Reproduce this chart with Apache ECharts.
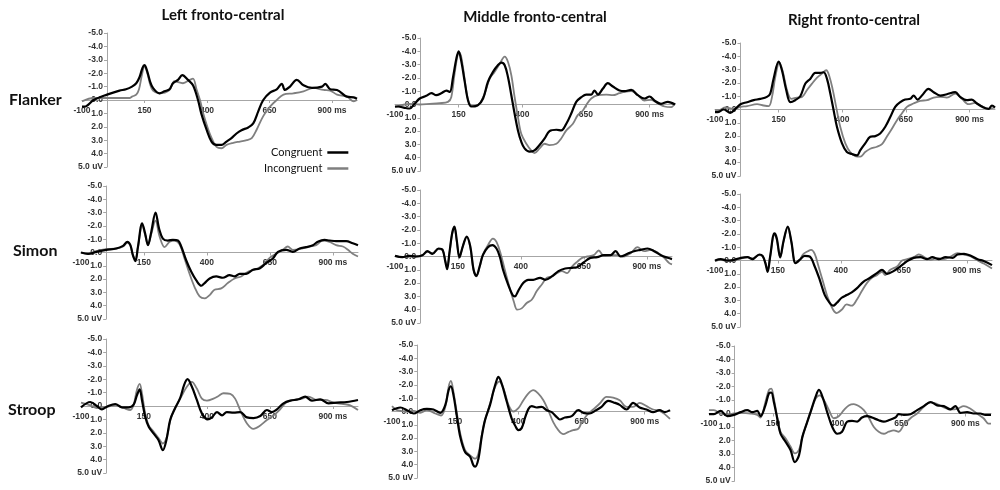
<!DOCTYPE html>
<html>
<head>
<meta charset="utf-8">
<script src="https://cdn.jsdelivr.net/npm/echarts@6/dist/echarts.min.js"></script>
<style>
  html, body { margin: 0; padding: 0; background: #fff; }
  #chart { width: 1000px; height: 490px; }
</style>
</head>
<body>
<div id="chart"></div>
<script>
const regions = ['Left fronto-central', 'Middle fronto-central', 'Right fronto-central'];
const tasks = ['Flanker', 'Simon', 'Stroop'];
const seriesNames = ['Congruent', 'Incongruent'];
const xTickValues = [-100, 150, 400, 650, 900];

// [ms, uV]
const leftFlankerCon = [[-100,0.5],[-90,0.5],[-53,0.0],[0,-0.4],[50,-0.7],[76,-0.8],[100,-1.0],[117,-1.25],[130,-1.7],[142,-2.4],[150,-2.6],[160,-2.2],[172,-1.4],[184,-0.9],[210,-0.5],[230,-0.65],[250,-0.8],[264,-1.25],[284,-1.5],[301,-1.85],[324,-1.5],[344,-1.1],[364,0.0],[377,1.0],[398,2.2],[418,3.1],[438,3.35],[458,3.35],[478,3.1],[498,2.85],[518,2.5],[538,2.25],[565,2.05],[585,1.75],[605,0.85],[625,0],[652,-0.55],[679,-0.8],[699,-1.2],[712,-0.75],[732,-1.0],[759,-1.5],[786,-1.1],[820,-0.9],[860,-1.0],[873,-1.2],[893,-0.8],[920,-0.75],[960,-0.25],[987,-0.2],[1000,-0.1]];
const leftFlankerInc = [[-100,0.1],[-53,-0.15],[0,-0.15],[50,-0.15],[90,-0.15],[100,-0.25],[117,-0.4],[128,-0.8],[140,-1.9],[150,-2.5],[160,-2.1],[172,-1.2],[184,-0.7],[210,-0.5],[250,-0.75],[270,-1.4],[304,-1.25],[331,-1.5],[344,-1.6],[358,-0.8],[372,0.0],[385,1.0],[405,2.2],[420,2.9],[438,3.5],[458,3.6],[478,3.35],[505,3.2],[532,3.1],[559,3.0],[579,2.85],[599,2.2],[625,1.2],[652,0.5],[679,0],[706,-0.4],[746,-0.5],[786,-0.65],[826,-0.9],[866,-0.75],[893,-0.7],[920,-0.4],[960,-0.25],[987,0.1],[1000,0]];

const leftSimonCon = [[-100,0.0],[-72,0.1],[-39,-0.05],[0,-0.2],[40,-0.3],[67,-0.5],[84,-0.8],[96,-0.55],[106,0.2],[116,0.65],[126,-0.4],[143,-2.2],[155,-1.4],[166,-0.55],[179,-1.55],[196,-3.0],[210,-1.8],[225,-1.05],[245,-0.9],[265,-0.95],[285,-0.9],[298,-0.45],[318,0.6],[338,1.45],[358,2.1],[378,2.5],[391,2.3],[411,1.95],[437,1.8],[463,1.9],[490,1.7],[510,1.8],[530,1.6],[556,1.6],[583,1.3],[609,1.2],[635,0.8],[662,0.45],[682,-0.05],[715,-0.2],[741,-0.05],[768,-0.3],[794,-0.4],[821,-0.55],[840,-0.8],[867,-0.95],[887,-0.9],[913,-0.85],[953,-0.85],[979,-0.7],[1000,-0.55]];
const leftSimonInc = [[-100,0.0],[-72,0.1],[-39,-0.1],[0,-0.25],[40,-0.3],[67,-0.45],[84,-0.75],[96,-0.55],[106,0.2],[116,0.55],[126,-0.4],[143,-2.05],[155,-1.3],[166,-0.6],[179,-1.4],[196,-2.4],[212,-1.2],[232,-0.4],[252,-0.8],[272,-0.9],[292,-0.6],[311,0.45],[331,1.6],[351,2.6],[371,3.3],[391,3.45],[411,3.2],[430,2.8],[457,2.7],[483,2.3],[510,1.95],[536,1.8],[563,1.45],[589,1.3],[622,0.95],[649,0.4],[675,0.1],[701,-0.2],[721,-0.45],[741,-0.2],[768,-0.25],[807,-0.45],[834,-0.55],[860,-0.9],[887,-0.8],[913,-0.55],[940,-0.45],[960,-0.2],[979,0.1],[1000,0.3]];

const leftStroopCon = [[-100,0.1],[-63,-0.3],[-37,0],[-17,0.25],[3,0.05],[36,-0.15],[63,0.1],[89,0.1],[109,-0.1],[122,-0.8],[133,-1.25],[142,-0.45],[155,0.8],[169,1.55],[188,2.05],[208,2.55],[225,3.3],[239,2.55],[254,1.05],[274,0.15],[294,-0.6],[310,-1.6],[323,-2.0],[340,-1.45],[360,-0.45],[380,0.55],[403,1.0],[420,0.85],[440,0.45],[460,0.7],[479,0.45],[506,0.5],[532,0.45],[559,0.85],[585,0.9],[612,0.75],[638,0.3],[658,0.45],[678,0.25],[704,-0.2],[731,-0.4],[764,-0.5],[790,-0.7],[817,-0.4],[850,-0.5],[883,-0.2],[916,-0.25],[956,-0.3],[1000,-0.45]];
const leftStroopInc = [[-100,-0.25],[-63,-0.05],[-37,0.15],[3,0.05],[36,-0.05],[69,0.15],[96,0.3],[109,-0.1],[122,-1.2],[133,-1.65],[142,-0.95],[155,0.55],[169,1.45],[188,1.9],[208,2.4],[225,2.8],[241,2.3],[257,0.9],[274,0.15],[301,-0.8],[321,-1.45],[340,-1.8],[360,-1.3],[380,-0.55],[400,-0.4],[426,-0.55],[446,-0.75],[466,-0.95],[493,-0.9],[512,-0.55],[532,0.3],[559,1.3],[585,1.7],[612,1.45],[638,1.05],[665,0.7],[691,0.25],[717,-0.3],[744,-0.45],[777,-0.55],[803,-0.7],[837,-0.45],[870,-0.45],[903,-0.25],[942,-0.15],[969,-0.05],[1000,0.3]];

const midFlankerCon = [[-100,0.15],[-88,0.15],[-62,0.25],[-42,0.3],[-23,-0.05],[-3,-0.45],[23,-0.65],[43,-0.85],[62,-0.7],[82,-0.85],[102,-1.05],[115,-0.95],[128,-2.05],[141,-3.45],[150,-4.0],[160,-3.3],[174,-1.7],[187,-0.3],[200,0.15],[226,0.05],[246,-0.45],[265,-1.7],[285,-2.45],[304,-2.95],[318,-3.15],[331,-2.95],[344,-2.05],[357,-0.7],[370,0.7],[383,1.95],[396,2.8],[409,3.3],[429,3.55],[448,3.45],[468,3.05],[488,2.55],[507,2.0],[534,1.9],[553,1.95],[573,1.45],[592,0.7],[612,-0.2],[632,-0.55],[651,-0.75],[671,-0.75],[684,-1.05],[697,-0.75],[717,-1.2],[736,-1.6],[756,-1.35],[782,-1.05],[802,-1.0],[828,-1.1],[854,-0.7],[880,-0.45],[900,-0.6],[919,-0.3],[945,-0.05],[972,-0.2],[1000,0]];
const midFlankerInc = [[-100,0.2],[-62,0],[-42,-0.05],[-3,0],[36,-0.05],[75,-0.1],[108,-0.2],[121,-0.55],[134,-2.3],[147,-3.8],[154,-3.9],[167,-2.8],[180,-1.05],[193,-0.05],[213,0.15],[232,-0.05],[252,-0.8],[272,-1.95],[291,-2.45],[311,-3.05],[331,-3.6],[344,-3.2],[357,-2.2],[370,-0.55],[383,0.95],[396,2.2],[416,2.95],[435,3.45],[448,3.65],[468,3.3],[488,2.95],[507,3.05],[534,2.95],[553,2.55],[573,1.95],[599,1.45],[618,0.8],[638,0.45],[651,0.05],[671,-0.45],[697,-0.7],[730,-0.75],[756,-0.7],[782,-0.85],[802,-0.95],[828,-1.0],[854,-0.7],[880,-0.3],[906,-0.35],[932,-0.1],[959,0.15],[985,0.2],[1000,-0.1]];

const midSimonCon = [[-100,-0.05],[-71,0.05],[-44,-0.05],[-17,0],[9,-0.1],[29,-0.4],[49,-0.2],[73,-0.6],[89,-0.5],[100,0.4],[107,0.95],[116,-0.25],[127,-1.75],[136,-2.25],[145,-1.25],[156,0.05],[169,-0.75],[185,-1.5],[199,-0.75],[212,1.0],[223,1.45],[236,0.75],[249,-0.1],[269,-0.7],[287,-0.85],[303,-0.6],[316,0],[329,1.0],[349,2.1],[367,2.9],[376,3.0],[389,2.6],[409,2.0],[429,1.75],[449,1.75],[476,1.6],[496,1.75],[523,1.5],[549,1.1],[576,0.9],[603,0.85],[623,0.8],[649,0.45],[676,0.1],[703,0.05],[729,-0.1],[756,-0.1],[776,-0.4],[796,0],[823,-0.2],[849,-0.4],[876,-0.5],[903,-0.6],[929,-0.4],[956,-0.1],[983,0.1],[1000,0.2]];
const midSimonInc = [[-100,-0.05],[-71,0.05],[-44,0],[-17,0],[9,-0.1],[29,-0.35],[49,-0.25],[73,-0.55],[89,-0.45],[100,0.35],[107,0.8],[116,-0.2],[127,-1.7],[136,-2.2],[145,-1.2],[156,0.1],[169,-0.75],[185,-1.45],[199,-0.7],[212,1.0],[223,1.5],[236,0.8],[249,-0.15],[269,-0.85],[289,-1.35],[303,-1.1],[319,-0.25],[336,1.0],[356,2.4],[372,3.4],[385,4.0],[403,3.9],[423,3.5],[443,3.25],[463,2.6],[483,2.1],[503,1.6],[523,1.5],[543,1.25],[563,1.1],[583,1.25],[603,0.75],[623,0.4],[643,0.1],[663,0],[689,-0.1],[709,-0.45],[729,-0.05],[756,-0.1],[783,-0.1],[809,0],[836,-0.25],[863,-0.7],[889,-0.4],[916,-0.5],[943,-0.3],[969,0.1],[989,0.5],[1000,0.6]];

const midStroopCon = [[-100,-0.1],[-67,-0.3],[-41,-0.1],[-14,0.15],[12,-0.1],[38,-0.2],[64,-0.15],[91,0.1],[111,-0.5],[124,-1.6],[133,-1.9],[143,-1.25],[157,0.4],[170,1.9],[189,3.05],[209,3.4],[222,4.05],[229,4.15],[242,3.55],[255,1.9],[268,0.65],[288,-0.5],[301,-1.5],[314,-2.35],[321,-2.6],[334,-2.1],[354,-0.75],[374,0.55],[387,1.05],[400,1.4],[413,1.25],[426,0.5],[440,-0.2],[453,-0.4],[472,-0.3],[492,-0.35],[512,-0.1],[532,0.05],[551,0.4],[564,0.6],[584,0.45],[611,0.35],[637,-0.1],[657,0.1],[683,0.15],[703,-0.05],[729,-0.35],[755,-0.8],[782,-0.65],[801,-0.5],[828,-0.15],[854,-0.65],[880,-0.3],[907,-0.15],[933,0.05],[959,-0.1],[979,0.05],[1000,-0.1]];
const midStroopInc = [[-100,-0.4],[-80,-0.1],[-41,0],[-14,-0.05],[12,0.1],[38,-0.1],[71,0.15],[94,0.3],[111,-0.35],[124,-1.85],[133,-2.3],[143,-1.5],[157,0.15],[170,1.65],[189,2.9],[209,3.3],[229,3.55],[242,3.15],[255,1.8],[268,0.65],[288,-0.6],[308,-1.85],[325,-2.25],[341,-1.75],[361,-0.5],[380,0],[400,-0.25],[420,-0.85],[439,-1.35],[459,-1.6],[479,-1.35],[499,-0.85],[518,-0.1],[538,0.8],[558,1.4],[578,1.7],[597,1.55],[617,1.4],[637,1.3],[650,0.85],[670,0.3],[696,-0.15],[722,-0.6],[749,-1.1],[775,-1.05],[801,-0.85],[828,-0.35],[854,-0.35],[880,-0.65],[907,-0.4],[933,-0.15],[959,-0.05],[979,0.2],[1000,0.55]];

const rightFlankerCon = [[-100,0.2],[-90,0.2],[-66,0],[-40,0.25],[-20,-0.05],[0,-0.4],[26,-0.55],[52,-0.7],[78,-0.8],[104,-0.95],[117,-1.2],[130,-2.3],[150,-3.6],[163,-2.95],[180,-1.45],[196,-0.55],[215,-0.7],[235,-1.0],[255,-1.95],[274,-2.3],[294,-2.75],[314,-2.75],[327,-2.8],[340,-2.3],[353,-1.2],[366,0.05],[379,1.3],[399,2.55],[418,3.2],[438,3.35],[458,3.45],[471,3.05],[490,2.55],[510,2.05],[530,2.0],[549,1.8],[569,1.3],[589,0.55],[608,-0.2],[628,-0.55],[647,-0.75],[667,-0.8],[680,-1.05],[696,-0.75],[713,-1.05],[739,-1.55],[759,-1.3],[785,-1.05],[811,-1.15],[844,-1.3],[863,-0.95],[889,-0.7],[909,-0.75],[929,-0.45],[955,-0.15],[975,-0.05],[988,-0.3],[1000,-0.15]];
const rightFlankerInc = [[-100,0.05],[-85,0.05],[-59,-0.15],[-27,-0.05],[0,-0.2],[26,-0.25],[65,-0.4],[91,-0.3],[111,-0.25],[124,-0.95],[137,-2.45],[153,-3.55],[167,-2.8],[183,-1.45],[200,-0.8],[222,-0.9],[242,-0.95],[261,-1.45],[281,-1.95],[301,-2.4],[320,-2.7],[337,-2.95],[350,-2.45],[363,-1.45],[376,-0.2],[392,1.3],[412,2.55],[431,3.2],[451,3.5],[471,3.55],[490,3.2],[510,2.95],[536,2.8],[556,2.6],[575,2.05],[595,1.45],[615,0.8],[634,0.3],[654,-0.2],[680,-0.45],[706,-0.65],[733,-0.7],[759,-0.9],[785,-0.95],[811,-0.9],[844,-1.2],[870,-0.8],[896,-0.4],[922,-0.5],[948,-0.25],[975,-0.05],[1000,-0.15]];

const rightSimonCon = [[-100,0],[-77,-0.1],[-51,0],[-24,-0.05],[3,-0.2],[29,-0.25],[49,-0.1],[76,-0.45],[89,-0.35],[100,0.2],[109,0.85],[119,-0.3],[136,-2.05],[145,-1.7],[159,-0.25],[172,-1.45],[189,-2.55],[203,-1.45],[220,0.2],[236,-0.05],[256,-0.35],[276,-0.3],[296,0.45],[316,1.45],[336,2.6],[356,3.2],[369,3.4],[383,3.2],[403,2.8],[423,2.6],[443,2.4],[463,2.1],[489,1.6],[516,1.3],[543,0.95],[563,0.7],[583,1.0],[609,0.8],[636,0.45],[663,0.05],[689,-0.2],[716,-0.25],[743,-0.1],[763,-0.25],[789,-0.1],[816,-0.25],[843,-0.2],[863,-0.45],[889,-0.5],[916,-0.35],[943,-0.1],[969,0.05],[1000,0.35]];
const rightSimonInc = [[-100,0.05],[-77,-0.05],[-51,0.05],[-24,0],[3,-0.15],[29,-0.25],[49,-0.15],[76,-0.4],[89,-0.3],[100,0.15],[109,0.75],[119,-0.3],[136,-1.95],[145,-1.6],[159,-0.2],[172,-1.4],[189,-2.5],[203,-1.4],[220,0.2],[236,0],[249,-0.45],[269,-0.7],[282,-0.8],[296,-0.5],[309,0.3],[329,1.6],[349,2.85],[369,3.7],[383,3.95],[403,3.7],[423,3.3],[443,3.4],[463,2.95],[483,2.3],[503,1.7],[523,1.3],[543,1.1],[563,0.85],[576,1.1],[596,0.7],[623,0.45],[643,0],[663,-0.1],[689,-0.25],[709,-0.45],[736,-0.2],[756,-0.05],[783,-0.2],[809,-0.1],[836,-0.3],[863,-0.55],[889,-0.45],[916,-0.3],[943,0],[969,0.25],[1000,0.6]];

const rightStroopCon = [[-100,0.05],[-81,0.05],[-55,-0.2],[-29,0.2],[-3,0.1],[23,-0.1],[49,-0.25],[69,-0.1],[88,-0.2],[101,0.2],[120,-0.6],[134,-1.5],[143,-1.55],[153,-0.85],[166,0.35],[179,1.5],[199,2.1],[218,2.7],[235,3.6],[251,3.1],[264,1.75],[281,0.75],[296,-0.1],[316,-1.25],[329,-1.75],[345,-1.1],[361,-0.1],[381,1.0],[400,1.5],[419,1.35],[439,0.6],[458,0.55],[478,0.6],[497,0.3],[517,0.2],[536,0.3],[562,0.5],[582,0.6],[601,0.5],[627,0.3],[640,0.05],[660,0.1],[686,0.05],[712,-0.25],[738,-0.55],[764,-0.85],[790,-0.6],[816,-0.55],[842,-0.3],[861,-0.55],[881,-0.05],[907,-0.1],[932,0],[958,0],[978,0.1],[1000,0.1]];
const rightStroopInc = [[-100,-0.25],[-81,-0.25],[-55,0],[-29,0.1],[-3,0],[29,-0.05],[62,0],[88,0.1],[101,0.3],[120,-0.85],[134,-1.75],[143,-1.85],[153,-1.1],[166,0.25],[179,1.35],[199,1.85],[218,2.45],[235,2.95],[251,2.7],[264,1.75],[281,0.75],[296,-0.1],[316,-1.1],[332,-1.35],[348,-1.0],[368,-0.25],[387,0.35],[406,0.2],[426,-0.25],[445,-0.6],[465,-0.7],[484,-0.55],[504,-0.25],[523,0.3],[543,1.0],[562,1.35],[582,1.5],[601,1.35],[621,1.25],[640,1.35],[660,0.85],[686,0.35],[712,0],[738,-0.5],[764,-0.85],[790,-0.7],[816,-0.45],[842,-0.3],[868,-0.35],[894,-0.55],[920,-0.35],[945,0],[971,0.35],[990,0.75],[1000,0.75]];

const panelData = [
    [[leftFlankerCon, leftFlankerInc], [midFlankerCon, midFlankerInc], [rightFlankerCon, rightFlankerInc]],
    [[leftSimonCon, leftSimonInc], [midSimonCon, midSimonInc], [rightSimonCon, rightSimonInc]],
    [[leftStroopCon, leftStroopInc], [midStroopCon, midStroopInc], [rightStroopCon, rightStroopInc]]
];

// panel boxes in px: left, top, width, height (row = task, col = region)
const panelBoxes = [
    [[82, 33, 275, 134], [395, 38, 280, 133], [715, 43, 280, 133]],
    [[81, 186, 277, 133], [395, 190, 277, 133], [715, 194, 277, 133]],
    [[81, 339, 277, 134], [392, 345, 278, 133], [709, 346, 282, 135]]
];

const lineColors = ['#000000', '#7f7f7f'];
const axisGray = '#a6a6a6';
const tickFont = { fontSize: 8.5, fontWeight: 'bold', color: '#333', fontFamily: 'Liberation Sans' };

const chart = echarts.init(document.getElementById('chart'));

const grids = [], xAxes = [], yAxes = [], series = [];
panelBoxes.forEach((row, r) => {
    row.forEach((box, c) => {
        const i = grids.length;
        grids.push({ left: box[0], top: box[1], width: box[2], height: box[3] });
        // axes cross at 0 ms / 0 uV: pull them into the grid with negative offsets
        xAxes.push({
            gridIndex: i,
            type: 'value',
            position: 'bottom',
            offset: -box[3] / 2,
            min: -100,
            max: 1000,
            splitLine: { show: false },
            axisLine: { onZero: false, lineStyle: { color: axisGray, width: 1 } },
            axisTick: { customValues: xTickValues.slice(1), length: 3, lineStyle: { color: axisGray } },
            axisLabel: Object.assign({
                customValues: xTickValues,
                margin: 6,
                formatter: v => (v === 900 ? '900 ms' : String(v))
            }, tickFont)
        });
        yAxes.push({
            gridIndex: i,
            type: 'value',
            position: 'left',
            offset: -box[2] * 100 / 1100,
            inverse: true,
            min: -5,
            max: 5,
            interval: 1,
            splitLine: { show: false },
            axisLine: { show: true, onZero: false, lineStyle: { color: axisGray, width: 1 } },
            axisTick: { show: true, length: 3, lineStyle: { color: axisGray } },
            axisLabel: Object.assign({
                margin: 4,
                formatter: v => (v === 5 ? '5.0 uV' : v.toFixed(1))
            }, tickFont)
        });
        // gray first so the congruent trace sits on top
        [1, 0].forEach(k => {
            series.push({
                name: seriesNames[k],
                type: 'line',
                xAxisIndex: i,
                yAxisIndex: i,
                data: panelData[r][c][k],
                symbol: 'none',
                smooth: 0.35,
                lineStyle: { color: lineColors[k], width: k === 0 ? 2.2 : 1.8 },
                itemStyle: { color: lineColors[k] },
                z: k === 0 ? 3 : 2,
                silent: true
            });
        });
    });
});

const titleX = [223, 535, 854];
const titleY = [15, 17, 20];
const rowY = [100, 251, 410];
const rowX = [9, 13, 8];

const graphics = [];
regions.forEach((name, i) => {
    graphics.push({
        type: 'text', x: titleX[i], y: titleY[i],
        style: { text: name, fontFamily: 'Lato', fontWeight: 'bold', fontSize: 15, fill: '#111', textAlign: 'center', textVerticalAlign: 'middle' }
    });
});
tasks.forEach((name, i) => {
    graphics.push({
        type: 'text', x: rowX[i], y: rowY[i],
        style: { text: name, fontFamily: 'Lato', fontWeight: 'bold', fontSize: 16, fill: '#111', textAlign: 'left', textVerticalAlign: 'middle' }
    });
});

chart.setOption({
    backgroundColor: '#fff',
    animation: false,
    grid: grids,
    xAxis: xAxes,
    yAxis: yAxes,
    series: series,
    legend: {
        data: seriesNames.map((n, k) => ({ name: n, icon: 'rect', itemStyle: { color: lineColors[k] } })),
        orient: 'vertical',
        left: 259,
        top: 142,
        align: 'right',
        itemWidth: 21,
        itemHeight: 2.5,
        itemGap: 5,
        selectedMode: false,
        textStyle: { fontFamily: 'Lato', fontSize: 11, color: '#111', width: 60, align: 'left' }
    },
    graphic: graphics
});
</script>
</body>
</html>
